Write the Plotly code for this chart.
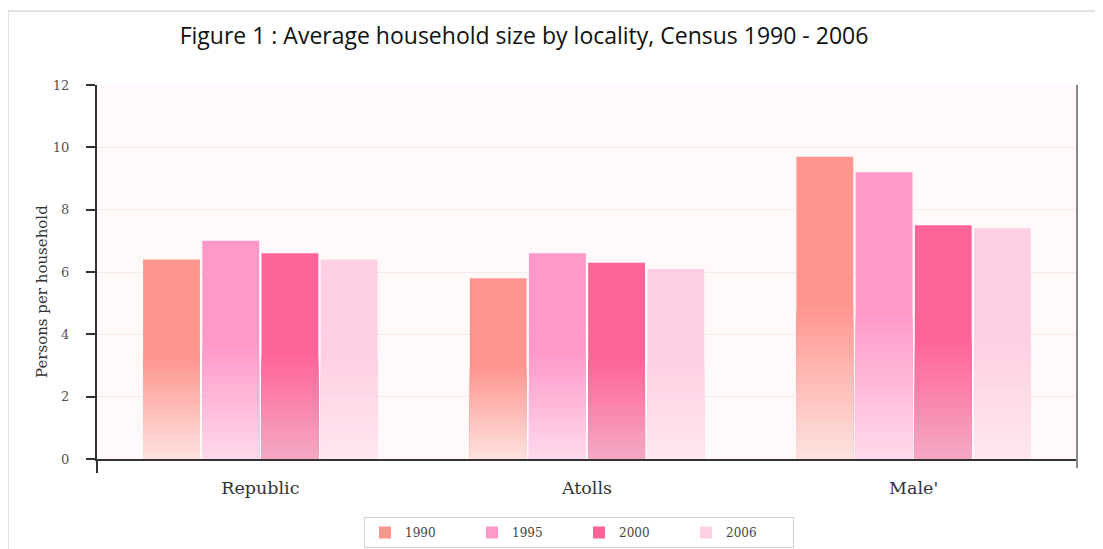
import plotly.graph_objects as go

# ---- data ----
categories = ["Republic", "Atolls", "Male'"]
years = ["1990", "1995", "2000", "2006"]
v1990 = [6.4, 5.8, 9.7]
v1995 = [7.0, 6.6, 9.2]
v2000 = [6.6, 6.3, 7.5]
v2006 = [6.4, 6.1, 7.4]
y_ticks = [0, 2, 4, 6, 8, 10, 12]

series = [v1990, v1995, v2000, v2006]
top_colors = ["#FF958F", "#FF99C9", "#FF6496", "#FFD0E3"]
bottom_colors = ["#FEE0DC", "#FFD8EB", "#F5A6C4", "#FFE6F0"]

def hex2rgb(h):
    h = h.lstrip("#")
    return tuple(int(h[i:i + 2], 16) for i in (0, 2, 4))

def mix(c1, c2, t):
    a, b = hex2rgb(c1), hex2rgb(c2)
    return "rgb(%d,%d,%d)" % tuple(round(a[i] + (b[i] - a[i]) * t) for i in range(3))

# page offset (browser body margin) compensation
OFF = 8
W, H = 1103, 549
L, R, T, B = 97 - OFF, 1077 - OFF, 85 - OFF, 459 - OFF
pw, ph = R - L, B - T

fig = go.Figure()
N = 16
for i, (yr, vals) in enumerate(zip(years, series)):
    fig.add_trace(go.Bar(
        x=categories, y=vals, name=yr, offsetgroup=yr,
        marker=dict(color=top_colors[i], line=dict(width=0)),
    ))
    for k in range(N):
        frac = 0.5 * (1 - k / N)
        fig.add_trace(go.Bar(
            x=categories, y=[v * frac for v in vals], offsetgroup=yr,
            marker=dict(color=mix(top_colors[i], bottom_colors[i], (k + 1) / N), line=dict(width=0)),
            showlegend=False, hoverinfo="skip",
        ))

serif = "DejaVu Serif"
fig.update_layout(
    width=W, height=H,
    margin=dict(l=L, r=W - R, t=T, b=H - B, autoexpand=False),
    paper_bgcolor="white",
    plot_bgcolor="#FFFAF9",
    barmode="group",
    bargap=0.275,
    bargroupgap=0.04,
    title=dict(
        text="Figure 1 : Average household size by locality, Census 1990 - 2006",
        x=(524 - OFF) / W, xanchor="center", xref="container",
        y=1 - (36 - OFF) / H, yanchor="middle", yref="container",
        font=dict(family="Open Sans", size=23, color="#111"),
    ),
    legend=dict(
        orientation="h", x=(579 - 97) / pw, xanchor="center",
        y=(459 - 517) / ph, yanchor="top",
        bordercolor="#D0D0D0", borderwidth=1, bgcolor="white",
        font=dict(family=serif, size=12, color="#444"),
        entrywidth=62, traceorder="normal",
    ),
    xaxis=dict(
        showline=True, linecolor="#333", linewidth=2,
        ticks="", ticklabelstandoff=12,
        tickfont=dict(family=serif, size=17.5, color="#333"),
        showgrid=False,
    ),
    yaxis=dict(
        range=[0, 12], tickvals=y_ticks,
        showline=True, linecolor="#333", linewidth=2,
        ticks="outside", ticklen=9, tickwidth=1.5, tickcolor="#333",
        ticklabelstandoff=14,
        tickfont=dict(family=serif, size=13, color="#555"),
        showgrid=True, gridcolor="#F6EBEB", gridwidth=1,
        zeroline=False,
    ),
    annotations=[
        dict(text="Persons per household", textangle=-90, showarrow=False,
             xref="paper", yref="paper",
             x=(42 - 97) / pw, y=(459 - 292) / ph, xanchor="center", yanchor="middle",
             font=dict(family=serif, size=15, color="#333")),
    ],
    showlegend=True,
    shapes=[
        dict(type="line", xref="paper", yref="paper", x0=1, x1=1, y0=-9 / ph, y1=1,
             line=dict(color="#888", width=2)),
        dict(type="line", xref="paper", yref="paper", x0=-10 / pw, x1=0, y0=0, y1=0,
             line=dict(color="#333", width=2)),
        dict(type="line", xref="paper", yref="paper", x0=0, x1=0, y0=-14 / ph, y1=0,
             line=dict(color="#333", width=2)),
        dict(type="rect", xref="paper", yref="paper",
             x0=(8 - 97) / pw, x1=(W + 40 - L) / pw, y0=-(H + 40 - B) / ph, y1=(459 - 11) / ph,
             line=dict(color="#DADADA", width=1.5), layer="below"),
    ],
)

fig.write_html("out.html")
